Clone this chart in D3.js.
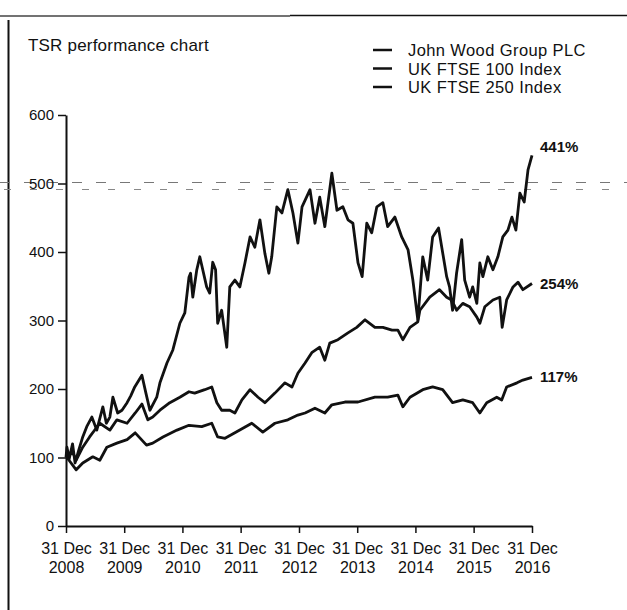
<!DOCTYPE html>
<html>
<head>
<meta charset="utf-8">
<script src="https://cdn.jsdelivr.net/npm/d3@7"></script>
<style>
  html, body { margin: 0; padding: 0; background: #fff; }
  svg { display: block; font-family: "Liberation Sans", Arial, Helvetica, sans-serif; }
</style>
</head>
<body>
<svg id="chart" width="627" height="610"></svg>
<script>
// ---------- DATA ----------
const seriesNames = ["John Wood Group PLC", "UK FTSE 100 Index", "UK FTSE 250 Index"];
const endLabels = ["441%", "254%", "117%"];
const yTicks = [0, 100, 200, 300, 400, 500, 600];
const xTickDates = ["2008-12-31","2009-12-31","2010-12-31","2011-12-31","2012-12-31","2013-12-31","2014-12-31","2015-12-31","2016-12-31"];
const xTickLine1 = "31 Dec";
const xTickLine2 = ["2008","2009","2010","2011","2012","2013","2014","2015","2016"];

const jwgDates = ["2008-12-31","2009-01-06","2009-01-20","2009-02-10","2009-02-26","2009-03-20","2009-04-15","2009-05-10","2009-06-11","2009-07-12","2009-08-19","2009-09-10","2009-10-02","2009-10-21","2009-11-20","2009-12-17","2010-01-18","2010-02-10","2010-03-07","2010-04-21","2010-05-15","2010-06-10","2010-07-23","2010-08-12","2010-09-25","2010-11-01","2010-12-15","2011-01-15","2011-02-10","2011-02-20","2011-03-06","2011-03-31","2011-04-19","2011-06-01","2011-06-20","2011-07-09","2011-07-27","2011-08-09","2011-09-03","2011-10-05","2011-10-24","2011-11-25","2011-12-26","2012-01-27","2012-02-28","2012-03-29","2012-04-30","2012-05-31","2012-06-25","2012-07-13","2012-08-14","2012-09-15","2012-10-22","2012-11-23","2012-12-24","2013-01-19","2013-03-10","2013-04-10","2013-05-10","2013-06-11","2013-07-25","2013-08-26","2013-10-02","2013-11-03","2013-12-04","2014-01-05","2014-01-31","2014-03-01","2014-04-01","2014-05-03","2014-06-10","2014-07-10","2014-08-24","2014-10-06","2014-11-15","2014-12-15","2015-01-15","2015-02-15","2015-03-18","2015-04-18","2015-05-25","2015-07-15","2015-08-02","2015-08-21","2015-09-15","2015-10-17","2015-11-05","2015-12-06","2015-12-25","2016-01-20","2016-02-08","2016-02-27","2016-03-29","2016-04-30","2016-05-31","2016-07-01","2016-08-02","2016-08-27","2016-09-21","2016-10-16","2016-11-12","2016-12-06","2016-12-31"];
const jwgValues = [100,115,98,120,92,110,130,145,159,140,174,150,159,188,165,169,180,190,203,220,195,169,188,209,238,257,296,311,363,369,334,374,393,349,340,385,374,296,315,261,349,359,349,384,422,407,447,398,369,393,466,457,491,457,413,466,491,442,480,437,515,461,466,447,442,384,364,442,428,466,472,437,451,422,403,359,301,393,359,422,435,364,349,315,369,418,359,334,349,325,384,364,393,374,393,422,432,451,432,486,473,520,541];

const ftse100Dates = ["2008-12-31","2009-01-06","2009-02-10","2009-03-05","2009-04-15","2009-05-28","2009-07-31","2009-10-02","2009-11-15","2010-01-18","2010-03-10","2010-04-21","2010-05-28","2010-06-28","2010-08-12","2010-10-13","2010-12-15","2011-02-10","2011-03-18","2011-05-20","2011-07-03","2011-08-04","2011-09-03","2011-10-24","2011-11-25","2012-01-08","2012-02-28","2012-04-18","2012-05-31","2012-08-02","2012-10-04","2012-11-17","2012-12-24","2013-02-07","2013-03-21","2013-05-10","2013-06-11","2013-07-12","2013-09-01","2013-11-03","2013-12-28","2014-02-18","2014-04-21","2014-06-10","2014-08-06","2014-09-12","2014-10-13","2014-11-27","2015-01-15","2015-01-28","2015-03-31","2015-05-31","2015-07-15","2015-08-15","2015-09-15","2015-10-24","2015-12-06","2016-01-20","2016-02-08","2016-03-10","2016-04-30","2016-06-12","2016-06-27","2016-07-25","2016-09-03","2016-10-04","2016-11-04","2016-12-31"];
const ftse100Values = [100,100,108,96,115,130,150,140,155,150,165,178,155,159,169,180,188,196,194,199,203,180,169,169,165,184,199,188,180,194,209,203,223,238,253,261,242,267,272,282,290,301,290,290,286,286,272,290,298,315,334,345,334,330,315,325,320,305,296,320,330,334,290,330,349,356,345,354];

const ftse250Dates = ["2008-12-31","2009-01-06","2009-03-05","2009-04-15","2009-06-17","2009-07-31","2009-09-13","2009-11-15","2010-01-18","2010-03-10","2010-05-20","2010-06-28","2010-08-31","2010-11-27","2011-02-10","2011-05-01","2011-07-03","2011-08-09","2011-09-24","2011-11-25","2012-03-10","2012-05-18","2012-08-02","2012-10-22","2012-12-24","2013-02-07","2013-04-10","2013-06-11","2013-07-25","2013-10-15","2014-01-05","2014-04-21","2014-07-10","2014-09-12","2014-10-13","2014-11-27","2015-02-15","2015-04-18","2015-06-20","2015-08-21","2015-10-24","2015-12-25","2016-02-08","2016-03-22","2016-05-24","2016-06-24","2016-07-25","2016-09-28","2016-11-04","2016-12-31"];
const ftse250Values = [100,100,82,92,101,96,115,121,126,136,118,121,130,140,147,145,150,130,128,136,150,137,150,155,162,165,172,165,177,181,181,188,188,191,174,188,199,203,199,180,184,180,165,180,188,184,203,209,213,217];

// ---------- BUILD ----------
const parse = d3.timeParse("%Y-%m-%d");
const series = [
  { name: seriesNames[0], label: endLabels[0], data: jwgDates.map((d, i) => ({ date: parse(d), value: jwgValues[i] })) },
  { name: seriesNames[1], label: endLabels[1], data: ftse100Dates.map((d, i) => ({ date: parse(d), value: ftse100Values[i] })) },
  { name: seriesNames[2], label: endLabels[2], data: ftse250Dates.map((d, i) => ({ date: parse(d), value: ftse250Values[i] })) }
];

const svg = d3.select("#chart");
const x = d3.scaleTime().domain([parse("2008-12-31"), parse("2016-12-31")]).range([66, 532]);
const y = d3.scaleLinear().domain([0, 600]).range([526, 115]);
const FONT = "Liberation Sans, Arial, sans-serif";

// scan-like page borders
svg.append("line").attr("x1", 0).attr("x2", 290).attr("y1", 16).attr("y2", 16)
  .attr("stroke", "#444").attr("stroke-width", 1.5);
svg.append("line").attr("x1", 290).attr("x2", 627).attr("y1", 15.5).attr("y2", 15.5)
  .attr("stroke", "#111").attr("stroke-width", 1.6);
svg.append("line").attr("x1", 8.5).attr("x2", 8.5).attr("y1", 20).attr("y2", 610)
  .attr("stroke", "#111").attr("stroke-width", 2);

// faint dashed guide at 500
svg.append("line").attr("x1", 0).attr("x2", 627).attr("y1", y(500) - 1).attr("y2", y(500) - 1)
  .attr("stroke", "#777").attr("stroke-width", 1).attr("stroke-dasharray", "10,14");
svg.append("line").attr("x1", 4).attr("x2", 627).attr("y1", y(500) + 6).attr("y2", y(500) + 6)
  .attr("stroke", "#888").attr("stroke-width", 1).attr("stroke-dasharray", "7,19");

// title
svg.append("text").attr("x", 28).attr("y", 51).attr("font-size", 17).attr("fill", "#111")
  .attr("letter-spacing", 0.2).text("TSR performance chart");

// legend
const leg = svg.append("g");
seriesNames.forEach((n, i) => {
  const base = 56 + i * 18.5;
  leg.append("line").attr("x1", 373).attr("x2", 392).attr("y1", base - 6).attr("y2", base - 6)
    .attr("stroke", "#111").attr("stroke-width", 2.5);
  leg.append("text").attr("x", 408).attr("y", base).attr("font-size", 16.5).attr("fill", "#111")
    .attr("letter-spacing", 0.4).text(n);
});

// axes
const yAxis = d3.axisLeft(y).tickValues(yTicks).tickSize(8).tickSizeOuter(0).tickPadding(4);
const gy = svg.append("g").attr("transform", "translate(66,0)").call(yAxis);
gy.selectAll("text").attr("font-size", 15).attr("fill", "#111").attr("font-family", FONT);
gy.selectAll("line").attr("stroke", "#111").attr("stroke-width", 1.5);
gy.select(".domain").attr("stroke", "#111").attr("stroke-width", 2);

const xAxis = d3.axisBottom(x).tickValues(xTickDates.map(parse)).tickSize(7).tickSizeOuter(0).tickFormat(() => "");
const gx = svg.append("g").attr("transform", "translate(0,526)").call(xAxis);
gx.selectAll("line").attr("stroke", "#111").attr("stroke-width", 1.5);
gx.select(".domain").attr("stroke", "#111").attr("stroke-width", 2);
gx.selectAll(".tick").each(function(d, i) {
  const t = d3.select(this).select("text");
  t.text(null).attr("y", 0).attr("dy", null)
    .attr("font-size", 16).attr("fill", "#111").attr("font-family", FONT);
  t.append("tspan").attr("x", 0).attr("y", 28).text(xTickLine1);
  t.append("tspan").attr("x", 0).attr("y", 47).text(xTickLine2[i]);
});

// lines
const line = d3.line().x(d => x(d.date)).y(d => y(d.value)).curve(d3.curveLinear);
svg.append("g").selectAll("path").data(series).join("path")
  .attr("d", d => line(d.data))
  .attr("fill", "none").attr("stroke", "#111").attr("stroke-width", 2.8)
  .attr("stroke-linejoin", "round");

// end labels
const labelOffsets = [-8, 0, 0];
svg.append("g").selectAll("text").data(series).join("text")
  .attr("x", 540)
  .attr("y", (d, i) => y(d.data[d.data.length - 1].value) + labelOffsets[i] + 5)
  .attr("font-size", 15).attr("font-weight", "bold").attr("fill", "#111")
  .text(d => d.label);
</script>
</body>
</html>
